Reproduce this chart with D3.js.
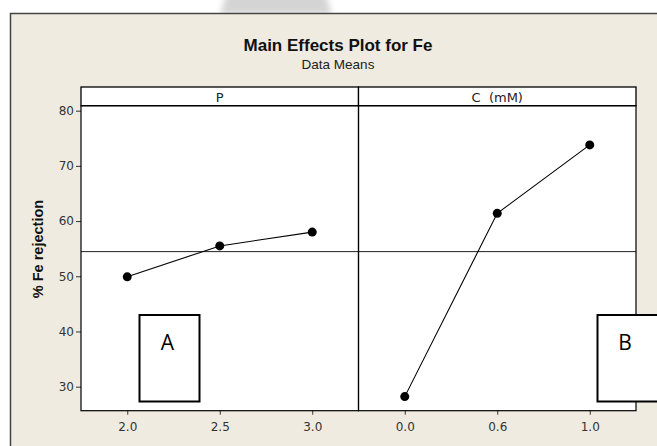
<!DOCTYPE html>
<html>
<head>
<meta charset="utf-8">
<script src="https://cdn.jsdelivr.net/npm/d3@7"></script>
<style>
  body { margin: 0; background: #fff; }
  svg text { font-family: "Liberation Sans", Arial, sans-serif; }
</style>
</head>
<body>
<div class="chart"></div>
<script>
// factor levels and data means
const pLevels = ["2.0", "2.5", "3.0"];
const pMeans = [49.9, 55.5, 58.0];
const cLevels = ["0.0", "0.6", "1.0"];
const cMeans = [28.2, 61.4, 73.8];
const panelNames = ["P", "C  (mM)"];
const yTicks = [30, 40, 50, 60, 70, 80];
const boxLabels = ["A", "B"];

const width = 657, height = 446;

const svg = d3.select('.chart').append('svg')
    .attr('width', width)
    .attr('height', height);

const defs = svg.append('defs');
defs.append('filter').attr('id', 'blur')
    .append('feGaussianBlur').attr('stdDeviation', 3);

// faint gray shape peeking above the frame
svg.append('path')
    .attr('d', 'M228,-10 L324,-10 L332,14 L220,14 Z')
    .style('fill', '#d4d4d4')
    .attr('filter', 'url(#blur)');

// beige background
svg.append('rect')
    .attr('x', 10.5).attr('y', 13.5)
    .attr('width', width).attr('height', height)
    .style('fill', '#efebe1')
    .style('stroke', '#444')
    .style('stroke-width', 1.5);

svg.append('text')
    .attr('x', 338).attr('y', 51)
    .attr('text-anchor', 'middle')
    .style('font-size', '17px')
    .style('font-weight', 'bold')
    .style('fill', '#111')
    .text('Main Effects Plot for Fe');

svg.append('text')
    .attr('x', 338).attr('y', 69)
    .attr('text-anchor', 'middle')
    .style('font-size', '13.5px')
    .style('fill', '#222')
    .text('Data Means');

const plotLeft = 81, plotMid = 358.5, plotRight = 636;
const plotTop = 105.7, plotBottom = 410.7, stripTop = 87;

const y = d3.scaleLinear()
    .domain([25.65, 80.9])
    .range([plotBottom, plotTop]);

const panels = [
    {name: panelNames[0], levels: pLevels, means: pMeans, x0: plotLeft, x1: plotMid},
    {name: panelNames[1], levels: cLevels, means: cMeans, x0: plotMid, x1: plotRight}
];

// plot area and strips
panels.forEach(p => {
    svg.append('rect')
        .attr('x', p.x0).attr('y', plotTop)
        .attr('width', p.x1 - p.x0).attr('height', plotBottom - plotTop)
        .style('fill', '#fff');
    svg.append('rect')
        .attr('x', p.x0).attr('y', stripTop)
        .attr('width', p.x1 - p.x0).attr('height', plotTop - stripTop)
        .style('fill', '#fff')
        .style('stroke', '#000')
        .style('stroke-width', 1.3);
    svg.append('text')
        .attr('x', (p.x0 + p.x1) / 2).attr('y', 102)
        .attr('text-anchor', 'middle')
        .style('font-family', '"DejaVu Sans", sans-serif')
        .style('font-size', '13px')
        .style('white-space', 'pre')
        .style('fill', '#222')
        .text(p.name);
});

// grand mean reference line
const grandMean = d3.mean(pMeans.concat(cMeans));
svg.append('line')
    .attr('x1', plotLeft).attr('x2', plotRight)
    .attr('y1', y(grandMean)).attr('y2', y(grandMean))
    .style('stroke', '#222')
    .style('stroke-width', 1);

// y axis
const yAxis = svg.append('g')
    .attr('transform', `translate(${plotLeft},0)`)
    .call(d3.axisLeft(y).tickValues(yTicks).tickSize(5).tickPadding(2));
yAxis.select('.domain').remove();
yAxis.selectAll('text').style('fill', '#333')
    .style('font-family', '"DejaVu Sans", sans-serif').style('font-size', '12px');
yAxis.selectAll('line').style('stroke', '#333');

svg.append('text')
    .attr('transform', 'translate(43,249) rotate(-90)')
    .attr('text-anchor', 'middle')
    .style('font-size', '14.5px')
    .style('font-weight', 'bold')
    .style('fill', '#111')
    .text('% Fe rejection');

panels.forEach(p => {
    const x = d3.scalePoint()
        .domain(p.levels)
        .range([p.x0, p.x1])
        .padding(0.5);

    const xAxis = svg.append('g')
        .attr('transform', `translate(0,${plotBottom})`)
        .call(d3.axisBottom(x).tickSize(4).tickPadding(8));
    xAxis.select('.domain').remove();
    xAxis.selectAll('text').style('fill', '#333')
        .style('font-family', '"DejaVu Sans", sans-serif').style('font-size', '12px');
    xAxis.selectAll('line').style('stroke', '#333');

    const pts = p.levels.map((l, i) => [x(l), y(p.means[i])]);

    svg.append('path')
        .attr('d', d3.line()(pts))
        .style('fill', 'none')
        .style('stroke', '#000')
        .style('stroke-width', 1.1);

    svg.selectAll(null)
        .data(pts)
        .enter()
        .append('circle')
        .attr('cx', d => d[0])
        .attr('cy', d => d[1])
        .attr('r', 4.5)
        .style('fill', '#000');

    // frame
    svg.append('rect')
        .attr('x', p.x0).attr('y', plotTop)
        .attr('width', p.x1 - p.x0).attr('height', plotBottom - plotTop)
        .style('fill', 'none')
        .style('stroke', '#000')
        .style('stroke-width', 1.2);
});

// annotation boxes
const boxes = [
    {label: boxLabels[0], x: 139.5, w: 60, tx: 167.5},
    {label: boxLabels[1], x: 597.5, w: 80, tx: 625}
];
boxes.forEach(b => {
    svg.append('rect')
        .attr('x', b.x).attr('y', 315)
        .attr('width', b.w).attr('height', 86.5)
        .style('fill', '#fff')
        .style('stroke', '#000')
        .style('stroke-width', 2);
    svg.append('text')
        .attr('x', b.tx).attr('y', 350)
        .attr('text-anchor', 'middle')
        .style('font-family', '"Open Sans", sans-serif')
        .style('font-size', '21px')
        .style('fill', '#000')
        .text(b.label);
});
</script>
</body>
</html>
